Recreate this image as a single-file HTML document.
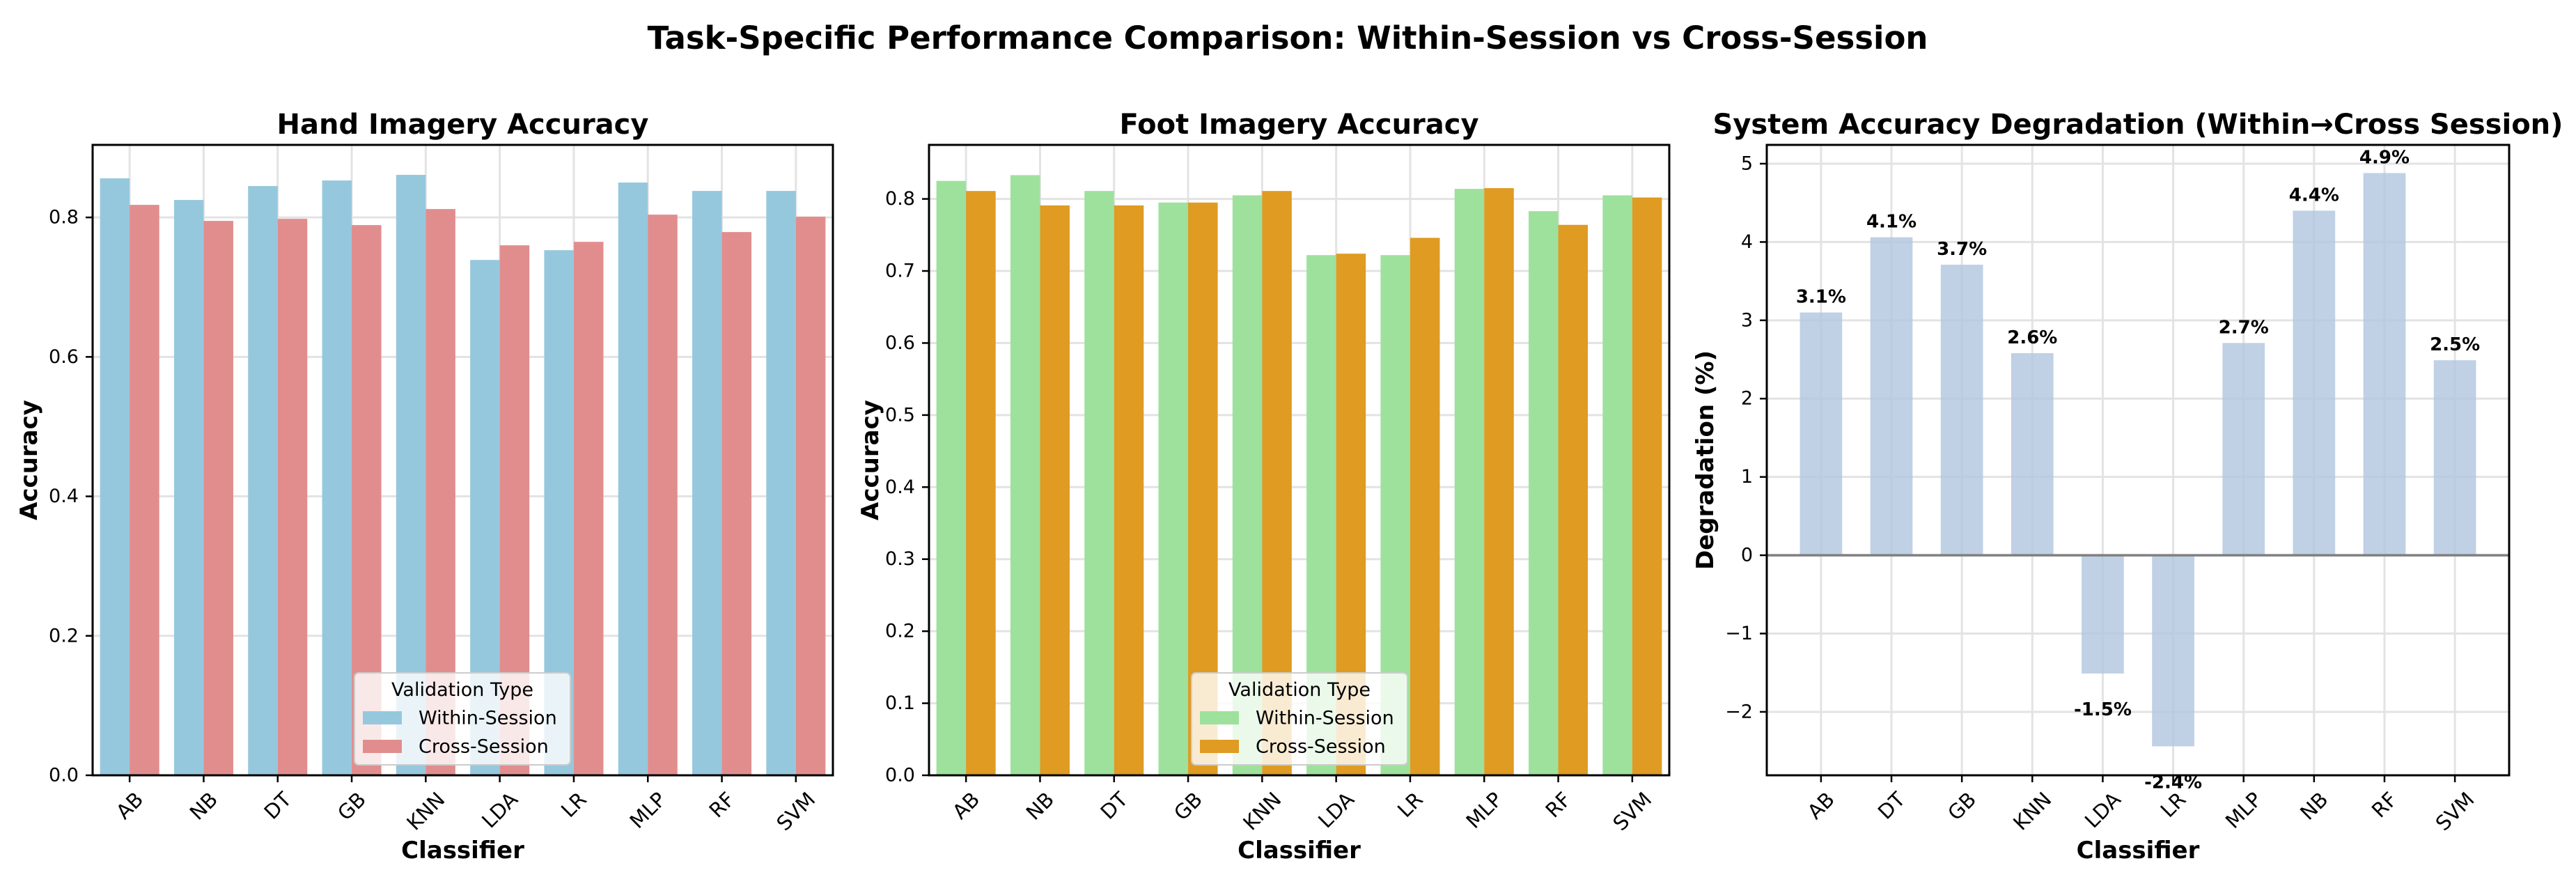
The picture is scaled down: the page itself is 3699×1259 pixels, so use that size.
<!DOCTYPE html>
<html><head><meta charset="utf-8"><style>
html,body{margin:0;padding:0;background:#fff}
svg{display:block}
text{font-family:"DejaVu Sans","Liberation Sans",sans-serif}
</style></head><body>
<svg id="fig" width="3699" height="1259" viewBox="0 0 3699 1259" xmlns="http://www.w3.org/2000/svg">
<text x="1849" y="70" text-anchor="middle" font-size="45" font-weight="bold">Task-Specific Performance Comparison: Within-Session vs Cross-Session</text>
</svg>
<script>
const handCategories = ["AB","NB","DT","GB","KNN","LDA","LR","MLP","RF","SVM"];
const handWithin = [0.856,0.825,0.845,0.853,0.861,0.739,0.753,0.850,0.838,0.838];
const handCross  = [0.818,0.795,0.798,0.789,0.812,0.760,0.765,0.804,0.779,0.801];
const handTicks = [0.0,0.2,0.4,0.6,0.8];
const handTickLabels = ["0.0","0.2","0.4","0.6","0.8"];

const footCategories = ["AB","NB","DT","GB","KNN","LDA","LR","MLP","RF","SVM"];
const footWithin = [0.825,0.833,0.811,0.795,0.805,0.722,0.722,0.814,0.783,0.805];
const footCross  = [0.811,0.791,0.791,0.795,0.811,0.724,0.746,0.815,0.764,0.802];
const footTicks = [0.0,0.1,0.2,0.3,0.4,0.5,0.6,0.7,0.8];
const footTickLabels = ["0.0","0.1","0.2","0.3","0.4","0.5","0.6","0.7","0.8"];

const degCategories = ["AB","DT","GB","KNN","LDA","LR","MLP","NB","RF","SVM"];
const degValues = [3.10,4.06,3.71,2.58,-1.51,-2.44,2.71,4.40,4.88,2.49];
const degLabels = ["3.1%","4.1%","3.7%","2.6%","-1.5%","-2.4%","2.7%","4.4%","4.9%","2.5%"];
const degTicks = [-2,-1,0,1,2,3,4,5];
const degTickLabels = ["\u22122","\u22121","0","1","2","3","4","5"];

const NS="http://www.w3.org/2000/svg";
const svg=document.getElementById('fig');
function mk(tag,attrs,parent){const e=document.createElementNS(NS,tag);for(const k in attrs)e.setAttribute(k,attrs[k]);(parent||svg).appendChild(e);return e;}

const TOP=208,BOT=1113;

function makeAxes(left,right,xmin,xmax,ymin,ymax){
  const sx=v=>left+(v-xmin)/(xmax-xmin)*(right-left);
  const sy=v=>BOT-(v-ymin)/(ymax-ymin)*(BOT-TOP);
  return {sx,sy,left,right};
}

function drawFrame(ax,cats,ticks,prefix){
  const g=mk('g',{});
  
  
  ticks.forEach((t,i)=>{
    const l=mk('line',{x1:ax.left,x2:ax.right,y1:ax.sy(t),y2:ax.sy(t),stroke:'#e3e3e3','stroke-width':3},g);
    
    
  });
  cats.forEach((c,i)=>{
    const l=mk('line',{x1:ax.sx(i),x2:ax.sx(i),y1:TOP,y2:BOT,stroke:'#e3e3e3','stroke-width':3},g);
    
    
  });
  return g;
}

function drawAxesDecor(ax,cats,ticks,tickLabels,title,ylabel,ylabelX,prefix){
  const g=mk('g',{});
  
  
  const r=mk('rect',{x:ax.left,y:TOP,width:ax.right-ax.left,height:BOT-TOP,fill:'none',stroke:'#000','stroke-width':3},g);
  
  
  ticks.forEach((t,i)=>{
    const y=ax.sy(t);
    mk('line',{x1:ax.left-10,x2:ax.left,y1:y,y2:y,stroke:'#000','stroke-width':2.5},g);
    const tx=mk('text',{x:ax.left-20,y:y,'text-anchor':'end','dominant-baseline':'central','font-size':27},g);
    tx.textContent=tickLabels[i];
    
    
  });
  cats.forEach((c,i)=>{
    const x=ax.sx(i);
    mk('line',{x1:x,x2:x,y1:BOT,y2:BOT+10,stroke:'#000','stroke-width':2.5},g);
    const tx=mk('text',{'text-anchor':'middle','dominant-baseline':'central','font-size':29},g);
    tx.textContent=c;
    
    
    const w=tx.getComputedTextLength();
    const h=21;
    const half=(w+h)*0.7071/2;
    const cy=BOT+22+half;
    tx.setAttribute('x',x);tx.setAttribute('y',cy);
    tx.setAttribute('transform','rotate(-45 '+x+' '+cy+')');
  });
  const cx=(ax.left+ax.right)/2;
  const t=mk('text',{x:cx,y:192,'text-anchor':'middle','font-size':40,'font-weight':'bold'},g);
  t.textContent=title;
  
  
  const xl=mk('text',{x:cx,y:1232,'text-anchor':'middle','font-size':34,'font-weight':'bold'},g);
  xl.textContent='Classifier';
  
  
  const my=(TOP+BOT)/2;
  const yl=mk('text',{x:ylabelX,y:my,'text-anchor':'middle','dominant-baseline':'central','font-size':34,'font-weight':'bold',transform:'rotate(-90 '+ylabelX+' '+my+')'},g);
  yl.textContent=ylabel;
  
  
}

function drawGrouped(ax,cats,within,cross,cW,cC,prefix){
  const g=mk('g',{});
  
  
  cats.forEach((c,i)=>{
    const x0=ax.sx(i-0.4),xm=ax.sx(i),x1=ax.sx(i+0.4);
    const b1=mk('rect',{x:x0,y:ax.sy(within[i]),width:xm-x0,height:ax.sy(0)-ax.sy(within[i]),fill:cW},g);
    
    
    const b2=mk('rect',{x:xm,y:ax.sy(cross[i]),width:x1-xm,height:ax.sy(0)-ax.sy(cross[i]),fill:cC},g);
    
    
  });
}

function drawLegend(cx,cW,cC,prefix){
  const g=mk('g',{});
  
  
  const x=cx-155,y=966;
  mk('rect',{x:x,y:y,width:310,height:132,rx:6,fill:'rgba(255,255,255,0.8)',stroke:'#cccccc','stroke-width':2},g);
  const t=mk('text',{x:cx,y:999,'text-anchor':'middle','font-size':27},g);
  t.textContent='Validation Type';
  
  
  [['Within-Session',cW,1031],['Cross-Session',cC,1072]].forEach(([lab,col,yy])=>{
    const p=mk('rect',{x:x+12,y:yy-10,width:56,height:19,fill:col},g);
    
    
    const tx=mk('text',{x:x+92,y:yy,'dominant-baseline':'central','font-size':27},g);
    tx.textContent=lab;
    
    
  });
}

// Panel 1
const ax1=makeAxes(133,1196,-0.5,9.5,0,0.904);
drawFrame(ax1,handCategories,handTicks,'hand');
drawGrouped(ax1,handCategories,handWithin,handCross,'#96c8dd','#e18d8e','hand');
drawAxesDecor(ax1,handCategories,handTicks,handTickLabels,'Hand Imagery Accuracy','Accuracy',42,'hand');
drawLegend(664,'#96c8dd','#e18d8e','hand');

// Panel 2
const ax2=makeAxes(1334,2397,-0.5,9.5,0,0.875);
drawFrame(ax2,footCategories,footTicks,'foot');
drawGrouped(ax2,footCategories,footWithin,footCross,'#9de19d','#df9b22','foot');
drawAxesDecor(ax2,footCategories,footTicks,footTickLabels,'Foot Imagery Accuracy','Accuracy',1250,'foot');
drawLegend(1866,'#9de19d','#df9b22','foot');

// Panel 3
const ax3=makeAxes(2537,3603,-0.77,9.77,-2.81,5.24);
drawFrame(ax3,degCategories,degTicks,'deg');
(function(){
  const g=mk('g',{});
  
  
  degCategories.forEach((c,i)=>{
    const v=degValues[i];
    const x0=ax3.sx(i-0.3),x1=ax3.sx(i+0.3);
    const y0=ax3.sy(Math.max(v,0)),y1=ax3.sy(Math.min(v,0));
    const b=mk('rect',{x:x0,y:y0,width:x1-x0,height:y1-y0,fill:'#b0c4de','fill-opacity':0.8},g);
    
    
    const ly=v>=0?ax3.sy(v)-22:ax3.sy(v)+52;
    const t=mk('text',{x:ax3.sx(i),y:ly,'text-anchor':'middle','dominant-baseline':'central','font-size':26,'font-weight':'bold'},g);
    t.textContent=degLabels[i];
    
    
  });
  const z=mk('line',{x1:ax3.left,x2:ax3.right,y1:ax3.sy(0),y2:ax3.sy(0),stroke:'#808080','stroke-width':3.5},g);
  
  
})();
drawAxesDecor(ax3,degCategories,degTicks,degTickLabels,'System Accuracy Degradation (Within\u2192Cross Session)','Degradation (%)',2449,'deg');
</script>
</body></html>
